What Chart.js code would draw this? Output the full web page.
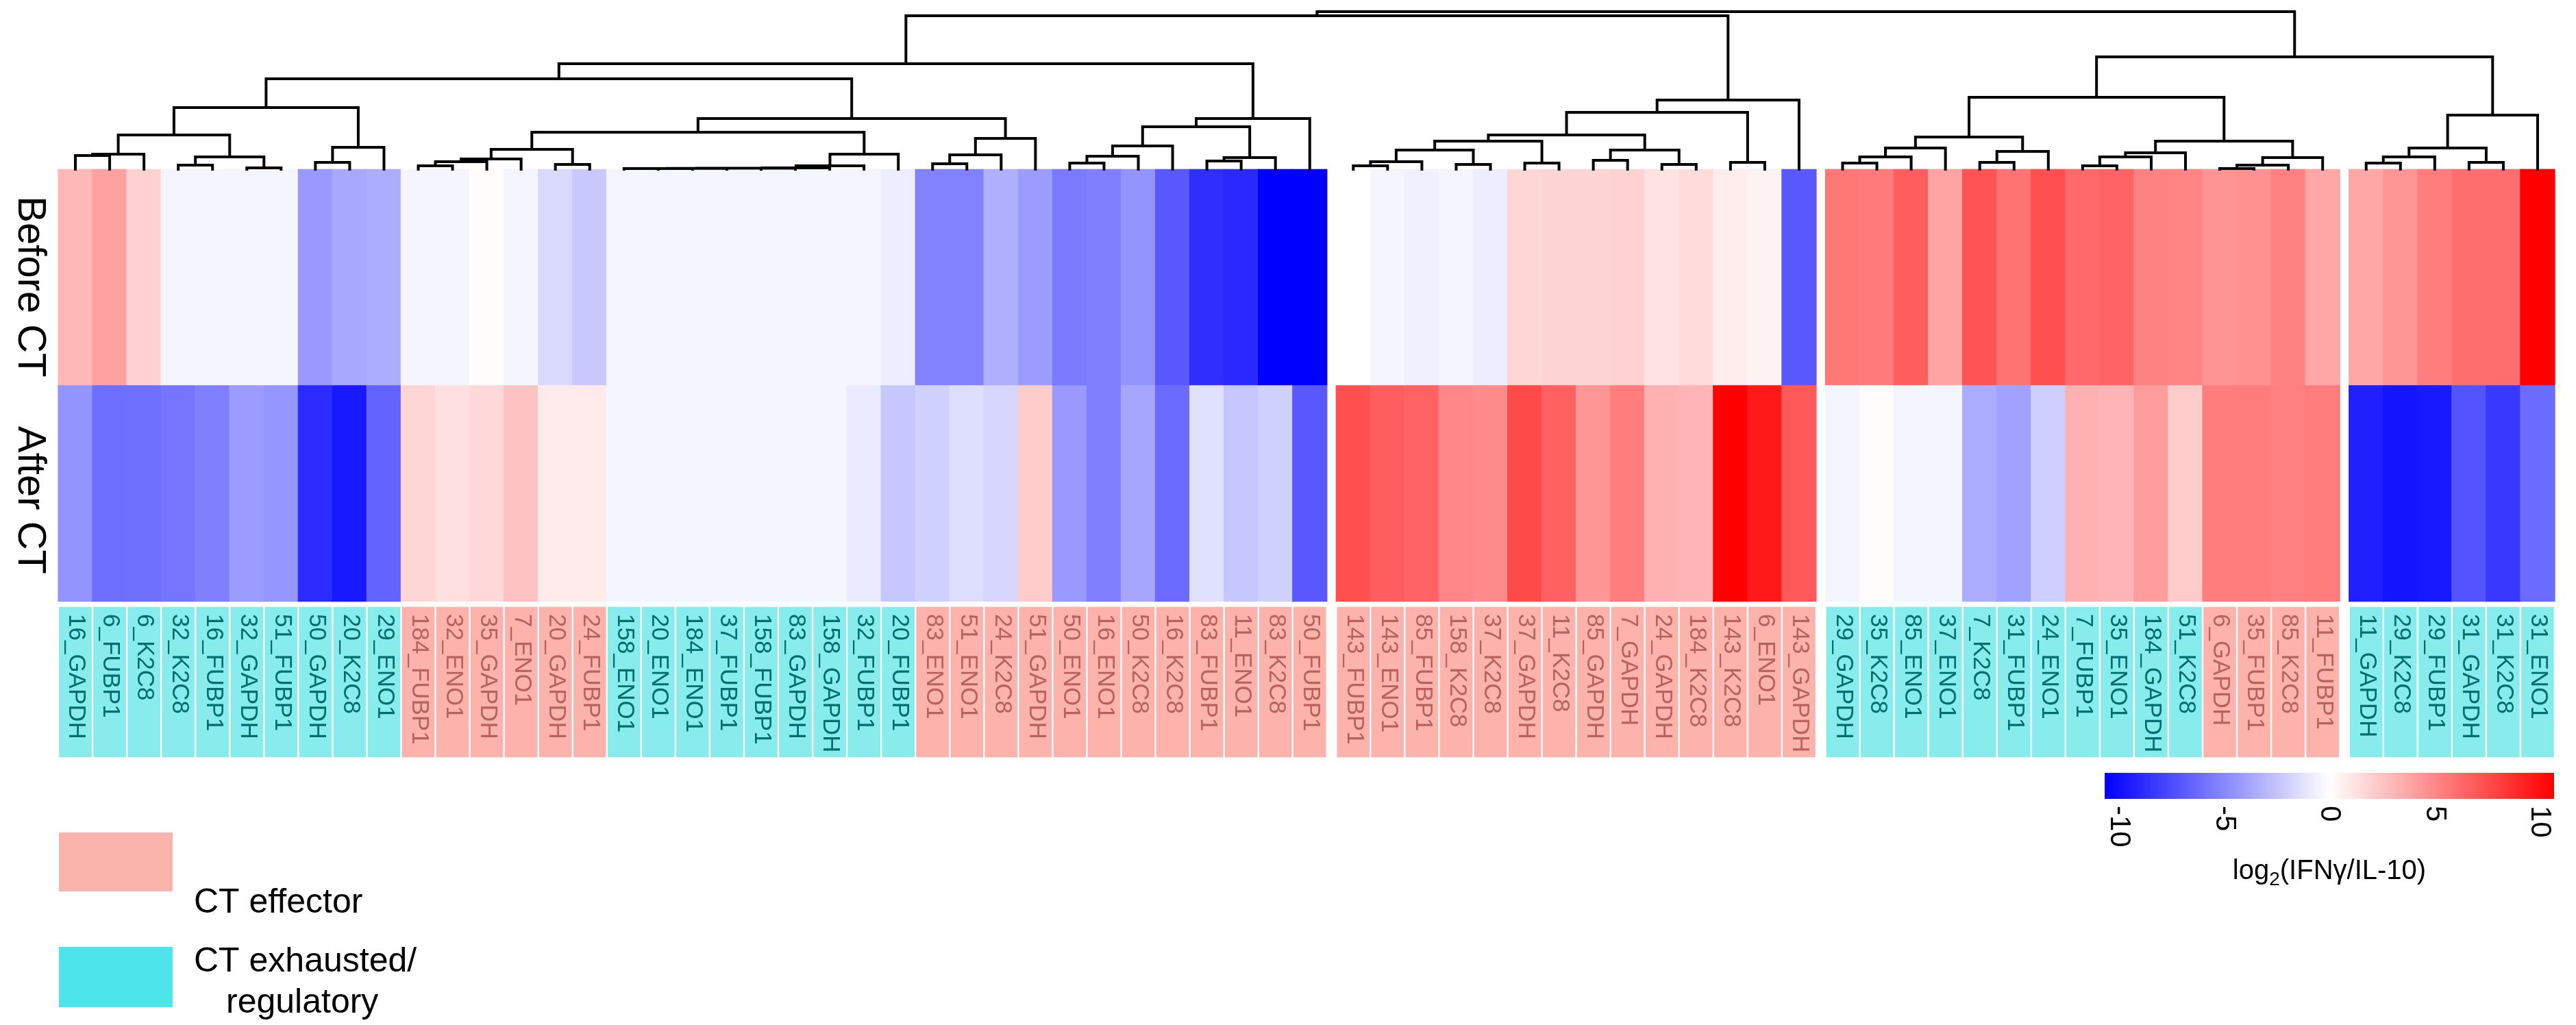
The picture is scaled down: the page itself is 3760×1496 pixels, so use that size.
<!DOCTYPE html>
<html>
<head>
<meta charset="utf-8">
<title>log2(IFNγ/IL-10) before / after CT</title>
<script src="https://cdn.jsdelivr.net/npm/chart.js@4.4.1/dist/chart.umd.min.js"></script>
<style>
  html, body { margin: 0; padding: 0; background: #fff; }
  canvas { display: block; }
</style>
</head>
<body>
<canvas id="heatmap" width="3760" height="1496"></canvas>
<script>
/**
 * Heatmap log2(IFNγ/IL-10) with column dendrogram
 */

// Samples in dendrogram order
const SAMPLES = [
  '16_GAPDH', '6_FUBP1', '6_K2C8', '32_K2C8', '16_FUBP1', '32_GAPDH', '51_FUBP1', '50_GAPDH', '20_K2C8', '29_ENO1',
  '184_FUBP1', '32_ENO1', '35_GAPDH', '7_ENO1', '20_GAPDH', '24_FUBP1',
  '158_ENO1', '20_ENO1', '184_ENO1', '37_FUBP1', '158_FUBP1', '83_GAPDH', '158_GAPDH', '32_FUBP1', '20_FUBP1',
  '83_ENO1', '51_ENO1', '24_K2C8', '51_GAPDH', '50_ENO1', '16_ENO1', '50_K2C8', '16_K2C8', '83_FUBP1', '11_ENO1', '83_K2C8', '50_FUBP1',
  '143_FUBP1', '143_ENO1', '85_FUBP1', '158_K2C8', '37_K2C8', '37_GAPDH', '11_K2C8', '85_GAPDH', '7_GAPDH', '24_GAPDH', '184_K2C8', '143_K2C8', '6_ENO1', '143_GAPDH',
  '29_GAPDH', '35_K2C8', '85_ENO1', '37_ENO1', '7_K2C8', '31_FUBP1', '24_ENO1', '7_FUBP1', '35_ENO1', '184_GAPDH', '51_K2C8', '6_GAPDH', '35_FUBP1', '85_K2C8', '11_FUBP1',
  '11_GAPDH', '29_K2C8', '29_FUBP1', '31_GAPDH', '31_K2C8', '31_ENO1',
];

// E = CT effector, X = CT exhausted/regulatory
const SAMPLE_TYPE = [
  'X', 'X', 'X', 'X', 'X', 'X', 'X', 'X', 'X', 'X',
  'E', 'E', 'E', 'E', 'E', 'E',
  'X', 'X', 'X', 'X', 'X', 'X', 'X', 'X', 'X',
  'E', 'E', 'E', 'E', 'E', 'E', 'E', 'E', 'E', 'E', 'E', 'E',
  'E', 'E', 'E', 'E', 'E', 'E', 'E', 'E', 'E', 'E', 'E', 'E', 'E', 'E',
  'X', 'X', 'X', 'X', 'X', 'X', 'X', 'X', 'X', 'X', 'X', 'E', 'E', 'E', 'E',
  'X', 'X', 'X', 'X', 'X', 'X',
];

// Cluster sizes (split by white gaps)
const GROUP_SIZES = [37, 14, 15, 6];

// log2(IFNγ/IL-10)
const BEFORE_CT = [
  2.8, 3.7, 1.8, -0.4, -0.4, -0.4, -0.4, -4.0, -3.4, -3.2,
  -0.4, -0.4, 0.1, -0.4, -1.5, -2.1,
  -0.4, -0.4, -0.4, -0.4, -0.4, -0.4, -0.4, -0.4, -0.7,
  -4.9, -4.9, -3.1, -3.9, -5.2, -5.0, -4.2, -6.5, -8.2, -8.4, -10, -10,
  0, -0.4, -0.6, -0.4, -0.7, 1.6, 1.7, 1.7, 1.8, 1.1, 1.4, 0.7, 0.5, -6.5,
  5.3, 5.2, 6.3, 3.6, 6.7, 5.5, 6.9, 5.9, 6.1, 4.9, 4.8, 4.2, 4.3, 4.9, 3.5,
  3.5, 4.1, 5.1, 5.7, 5.7, 10,
];
const AFTER_CT = [
  -4.2, -5.7, -5.6, -5.4, -5.0, -3.9, -4.1, -8.3, -9.0, -6.1,
  1.6, 1.2, 1.5, 2.4, 0.8, 0.8,
  -0.4, -0.4, -0.4, -0.4, -0.4, -0.4, -0.4, -0.8, -2.2,
  -1.8, -1.3, -1.6, 2.0, -4.0, -5.0, -3.5, -5.8, -1.2, -2.2, -1.8, -6.5,
  6.9, 6.3, 6.1, 4.7, 4.5, 7.1, 6.2, 4.1, 5.1, 3.1, 2.9, 10, 9.0, 6.5,
  -0.4, 0.1, -0.4, -0.4, -3.3, -3.7, -1.9, 3.1, 2.9, 3.9, 2.0, 5.1, 5.1, 5.0, 5.1,
  -8.8, -9.2, -9.0, -6.7, -7.8, -5.8,
];

// Linkage (hclust style): negative = leaf (1-based column), positive = earlier merge; third = height
const MERGES = [
  [-1, -2, 20], [1, -3, 22], [-4, -5, 6], [-6, -7, 2], [3, 4, 18], [2, 5, 50],
  [-8, -9, 10], [7, -10, 32], [6, 8, 90],
  [-11, -12, 5], [10, -13, 11], [11, -14, 15], [-15, -16, 7], [12, 13, 29],
  [-17, -18, 1], [15, -19, 1], [16, -20, 1.2], [17, -21, 1.4], [18, -22, 1.6], [19, -23, 2],
  [20, -24, 5], [21, -25, 22], [14, 22, 54],
  [-26, -27, 8], [24, -28, 21], [25, -29, 45], [23, 26, 74], [9, 27, 132],
  [-30, -31, 9], [29, -32, 19], [30, -33, 34], [-34, -35, 12], [32, -36, 17], [31, 33, 62], [34, -37, 74],
  [28, 35, 154],
  [-38, -39, 5], [37, -40, 11], [-41, -42, 7], [38, 39, 28], [-43, -44, 9], [40, 41, 41],
  [-45, -46, 13], [-47, -48, 7], [43, 44, 28], [42, 45, 50], [-49, -50, 10], [46, 47, 83], [48, -51, 101],
  [36, 49, 224],
  [-52, -53, 9], [51, -54, 18], [52, -55, 31], [-56, -57, 10], [54, -58, 26], [53, 55, 47],
  [-59, -60, 5], [57, -61, 18], [58, -62, 24], [-63, -64, 1], [60, -65, 6], [61, -66, 17], [59, 62, 41], [56, 63, 105],
  [-67, -68, 9], [65, -69, 18], [-70, -71, 10], [66, 67, 31], [68, -72, 79],
  [64, 69, 164],
  [50, 70, 230],
];

const SCALE_TICKS = [-10, -5, 0, 5, 10];

// --- layout (canvas pixels) ---
const W = 3760, H = 1496;
const HEAT_LEFT = 85, HEAT_RIGHT = 3729;
const HEAT_TOP = 247, ROW_SPLIT = 562, HEAT_BOTTOM = 878;
const LABEL_TOP = 886, LABEL_BOTTOM = 1105;
const GAP_UNITS = 0.27;
const FONT = '"Liberation Sans", Arial, sans-serif';

const COLORS = {
  effectorBox: '#fdb3ab', effectorText: '#b8625d',
  exhaustedBox: '#88ecec', exhaustedText: '#006e6e',
  effectorLegend: '#fab4ac', exhaustedLegend: '#4de4eb',
};

// column positions with gaps between clusters
const COL_X = [];
GROUP_SIZES.forEach((n, g) => {
  for (let i = 0; i < n; i++) COL_X.push(COL_X.length + g * GAP_UNITS);
});
const UNITS = COL_X[COL_X.length - 1] + 1;
const PX_PER_UNIT = (HEAT_RIGHT - HEAT_LEFT) / UNITS;
const X_MIN = -0.5 - HEAT_LEFT / PX_PER_UNIT;
const X_MAX = X_MIN + W / PX_PER_UNIT;

/** value -> blue / white / red */
function heatColor(v) {
  const t = Math.max(-1, Math.min(1, v / 10));
  const k = Math.round(255 * (1 - Math.abs(t)));
  return t < 0 ? `rgb(${k},${k},255)` : `rgb(255,${k},${k})`;
}

/** dendrogram as polyline pieces (null breaks) */
function dendrogramPoints() {
  const nodeX = [], nodeH = [];
  const pos = id => (id < 0 ? [COL_X[-id - 1], 0] : [nodeX[id - 1], nodeH[id - 1]]);
  const pts = [];
  MERGES.forEach(([a, b, h], i) => {
    const [xa, ha] = pos(a);
    const [xb, hb] = pos(b);
    pts.push(
      { x: xa, y: HEAT_TOP - ha }, { x: xa, y: HEAT_TOP - h },
      { x: xb, y: HEAT_TOP - h }, { x: xb, y: HEAT_TOP - hb },
      { x: xb, y: null },
    );
    nodeX[i] = (xa + xb) / 2;
    nodeH[i] = h;
  });
  return pts;
}

const isEff = i => SAMPLE_TYPE[i] === 'E';

// Texts, colour bar and legend
const annotations = {
  id: 'annotations',
  afterDatasetsDraw(chart) {
    const { ctx, scales: { x } } = chart;
    ctx.save();

    // row titles
    ctx.fillStyle = '#000';
    ctx.font = `58px ${FONT}`;
    ctx.textAlign = 'center';
    ctx.textBaseline = 'middle';
    [['Before CT', (HEAT_TOP + ROW_SPLIT) / 2 + 14], ['After CT', (ROW_SPLIT + HEAT_BOTTOM) / 2 + 10]].forEach(([t, y]) => {
      ctx.save();
      ctx.translate(43, y);
      ctx.rotate(Math.PI / 2);
      ctx.fillText(t, 0, 0);
      ctx.restore();
    });

    // sample labels
    ctx.font = `35px ${FONT}`;
    ctx.textAlign = 'left';
    SAMPLES.forEach((s, i) => {
      ctx.save();
      ctx.translate(x.getPixelForValue(COL_X[i]) + 1, LABEL_TOP + 10);
      ctx.rotate(Math.PI / 2);
      ctx.fillStyle = isEff(i) ? COLORS.effectorText : COLORS.exhaustedText;
      ctx.fillText(s, 0, 0);
      ctx.restore();
    });

    // colour bar
    const cbL = 3072, cbR = 3728, cbT = 1128, cbB = 1166;
    const grad = ctx.createLinearGradient(cbL, 0, cbR, 0);
    for (let v = -10; v <= 10; v += 1) grad.addColorStop((v + 10) / 20, heatColor(v));
    ctx.fillStyle = grad;
    ctx.fillRect(cbL, cbT, cbR - cbL, cbB - cbT);

    ctx.fillStyle = '#000';
    ctx.font = `42px ${FONT}`;
    ctx.textBaseline = 'middle';
    const inset = 21;
    SCALE_TICKS.forEach(v => {
      const px = cbL + inset + (v + 10) / 20 * (cbR - cbL - 2 * inset);
      ctx.save();
      ctx.translate(px, cbB + 10);
      ctx.rotate(Math.PI / 2);
      ctx.textAlign = 'left';
      ctx.fillText(String(v), 0, 0);
      ctx.restore();
    });

    // log2(IFNγ/IL-10)
    ctx.font = `40px ${FONT}`;
    const a = 'log', b = '(IFNγ/IL-10)';
    ctx.textAlign = 'left';
    const subFont = `28px ${FONT}`;
    const wa = ctx.measureText(a).width, wb = ctx.measureText(b).width;
    ctx.font = subFont;
    const ws = ctx.measureText('2').width;
    const lx = (cbL + cbR) / 2 - (wa + ws + wb) / 2;
    const ly = 1272;
    ctx.font = `40px ${FONT}`;
    ctx.fillText(a, lx, ly);
    ctx.font = subFont;
    ctx.fillText('2', lx + wa, ly + 12);
    ctx.font = `40px ${FONT}`;
    ctx.fillText(b, lx + wa + ws, ly);

    // legend
    ctx.fillStyle = COLORS.effectorLegend;
    ctx.fillRect(86, 1215, 166, 86);
    ctx.fillStyle = COLORS.exhaustedLegend;
    ctx.fillRect(86, 1382, 166, 88);
    ctx.fillStyle = '#000';
    ctx.font = `50px ${FONT}`;
    ctx.fillText('CT effector', 283, 1318);
    ctx.fillText('CT exhausted/', 283, 1404);
    ctx.fillText('regulatory', 330, 1464);

    ctx.restore();
  },
};

const cellW = PX_PER_UNIT + 0.6;

new Chart(document.getElementById('heatmap'), {
  type: 'bar',
  data: {
    datasets: [
      {
        type: 'line',
        label: 'dendrogram',
        data: dendrogramPoints(),
        borderColor: '#000',
        borderWidth: 4,
        pointRadius: 0,
        tension: 0,
        spanGaps: false,
        borderCapStyle: 'square',
        order: 0,
      },
      {
        label: 'Before CT',
        data: BEFORE_CT.map((v, i) => ({ x: COL_X[i], y: [HEAT_TOP, ROW_SPLIT] })),
        backgroundColor: BEFORE_CT.map(heatColor),
        borderWidth: 0,
        grouped: false,
        barThickness: cellW,
        order: 2,
      },
      {
        label: 'After CT',
        data: AFTER_CT.map((v, i) => ({ x: COL_X[i], y: [ROW_SPLIT, HEAT_BOTTOM] })),
        backgroundColor: AFTER_CT.map(heatColor),
        borderWidth: 0,
        grouped: false,
        barThickness: cellW,
        order: 2,
      },
      {
        label: 'sample type',
        data: SAMPLES.map((s, i) => ({ x: COL_X[i], y: [LABEL_TOP, LABEL_BOTTOM] })),
        backgroundColor: SAMPLES.map((s, i) => (isEff(i) ? COLORS.effectorBox : COLORS.exhaustedBox)),
        borderWidth: 0,
        grouped: false,
        barThickness: PX_PER_UNIT - 3,
        order: 3,
      },
    ],
  },
  options: {
    responsive: false,
    devicePixelRatio: 1,
    animation: false,
    events: [],
    layout: { padding: 0 },
    plugins: { legend: { display: false }, tooltip: { enabled: false } },
    scales: {
      x: { type: 'linear', min: X_MIN, max: X_MAX, display: false, offset: false, grid: { display: false } },
      y: { type: 'linear', min: 0, max: H, reverse: true, display: false, grid: { display: false } },
    },
  },
  plugins: [annotations],
});
</script>
</body>
</html>
